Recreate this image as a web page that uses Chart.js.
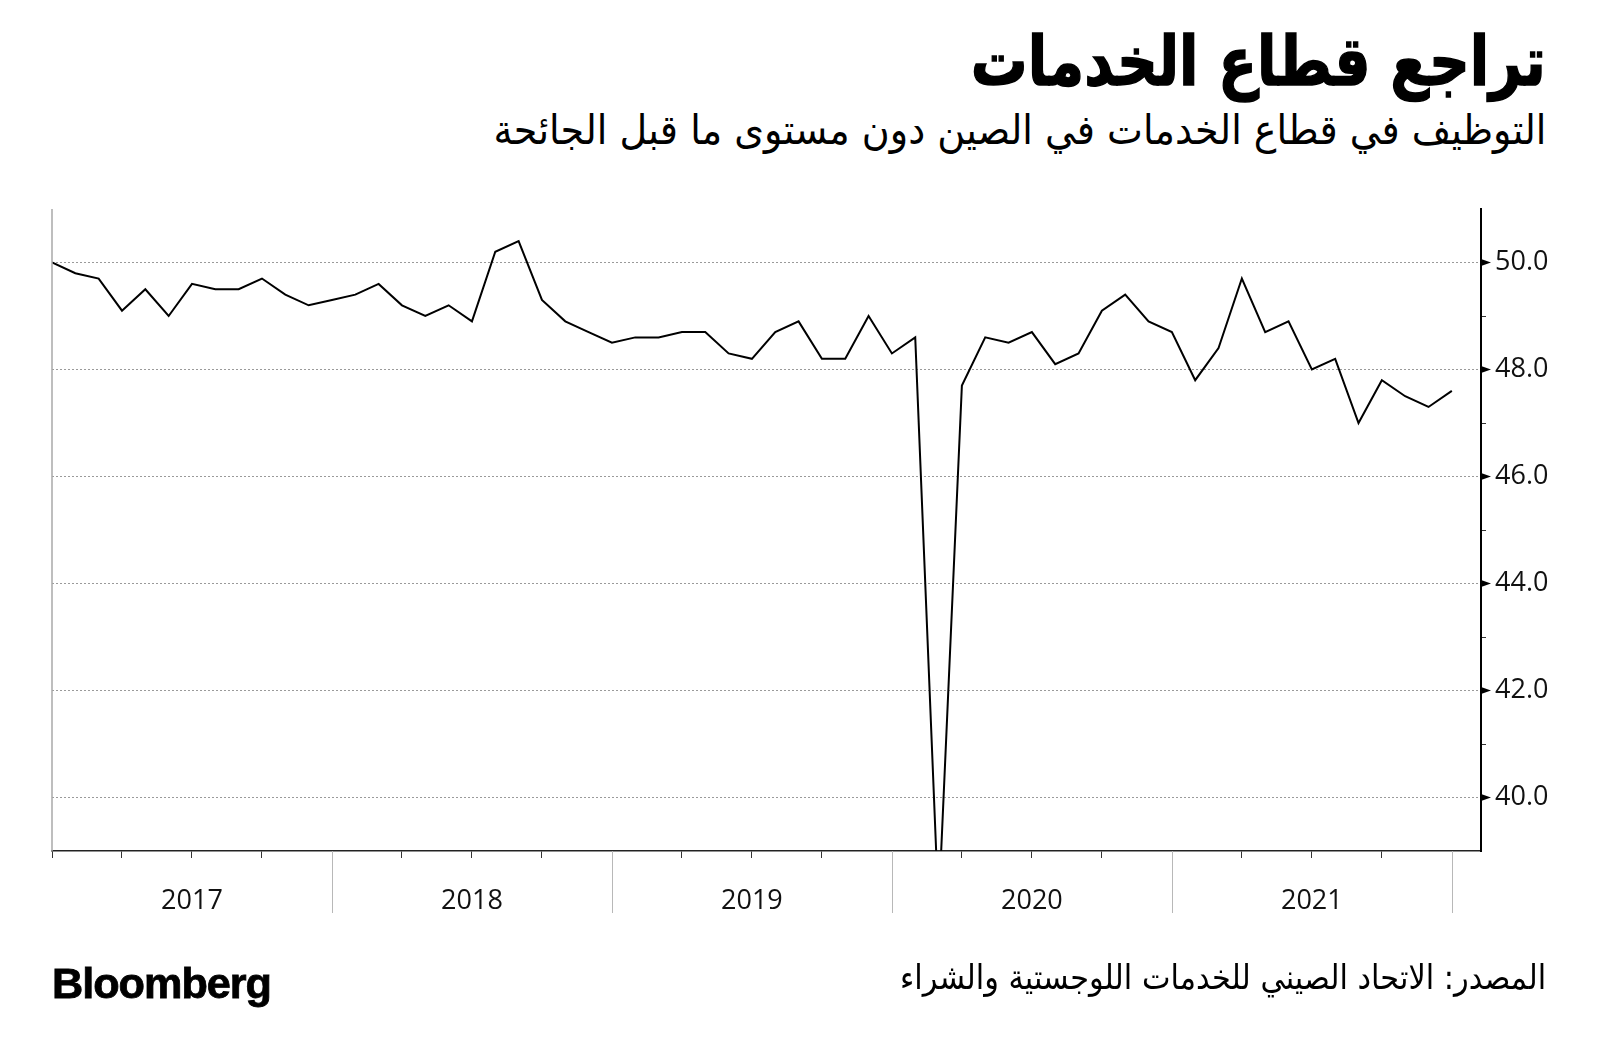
<!DOCTYPE html>
<html lang="ar">
<head>
<meta charset="utf-8">
<script src="https://cdn.jsdelivr.net/npm/chart.js@4.4.1/dist/chart.umd.min.js"></script>
<style>
  html, body { margin: 0; padding: 0; background: #fff; }
  body { width: 1600px; height: 1064px; position: relative; overflow: hidden; }
  #chart { position: absolute; left: 0; top: 0; }
  .txt { position: absolute; right: 54px; direction: rtl; white-space: nowrap; color: #000;
         font-family: "DejaVu Sans", sans-serif; transform-origin: right top; line-height: 1; }
  #title { top: 28px; font-size: 68px; font-weight: bold; -webkit-text-stroke: 1.5px #000; }
  #subtitle { top: 110px; font-size: 41px; }
  #source { top: 960px; font-size: 34px; }
  #logo { position: absolute; left: 52px; top: 962px; font-family: "Liberation Sans", Arial, sans-serif;
          font-weight: bold; font-size: 43px; letter-spacing: -1px; line-height: 1; transform-origin: left top;
          -webkit-text-stroke: 0.8px #000; }
</style>
</head>
<body>
<div id="title" class="txt">تراجع قطاع الخدمات</div>
<div id="subtitle" class="txt">التوظيف في قطاع الخدمات في الصين دون مستوى ما قبل الجائحة</div>
<canvas id="chart" width="1600" height="1064"></canvas>
<div id="source" class="txt">المصدر: الاتحاد الصيني للخدمات اللوجستية والشراء</div>
<div id="logo">Bloomberg</div>

<script>
// Monthly services employment index, Dec 2016 .. Dec 2021 (one value per month)
const serviceEmployment = [
    50.0, 49.8, 49.7, 49.1, 49.5, 49.0, 49.6, 49.5, 49.5, 49.7, 49.4, 49.2,
    49.3, 49.4, 49.6, 49.2, 49.0, 49.2, 48.9, 50.2, 50.4, 49.3, 48.9, 48.7,
    48.5, 48.6, 48.6, 48.7, 48.7, 48.3, 48.2, 48.7, 48.9, 48.2, 48.2, 49.0,
    48.3, 48.6, 37.9, 47.7, 48.6, 48.5, 48.7, 48.1, 48.3, 49.1, 49.4, 48.9,
    48.7, 47.8, 48.4, 49.7, 48.7, 48.9, 48.0, 48.2, 47.0, 47.8, 47.5, 47.3,
    47.6
];
const yearLabels = ['2017', '2018', '2019', '2020', '2021'];
const yTicks = [40, 42, 44, 46, 48, 50];
const yearBounds = [12, 24, 36, 48, 60];   // month index where each new year starts
const quarterTicks = [0, 3, 6, 9, 12, 15, 18, 21, 24, 27, 30, 33, 36, 39, 42, 45, 48, 51, 54, 57, 60];

const points = serviceEmployment.map((v, i) => ({ x: i, y: v }));

// Draws the left frame, the long year separators and the small arrow ticks
const axisDecor = {
    id: 'axisDecor',
    afterDraw(chart) {
        const { ctx, chartArea, scales } = chart;
        ctx.save();
        ctx.strokeStyle = '#a8a8a8';
        ctx.lineWidth = 1.5;
        ctx.beginPath();
        ctx.moveTo(chartArea.left, chartArea.top);
        ctx.lineTo(chartArea.left, chartArea.bottom);
        ctx.stroke();

        ctx.strokeStyle = '#b8b8b8';
        ctx.lineWidth = 1;
        yearBounds.forEach(v => {
            const px = Math.round(scales.x.getPixelForValue(v)) + 0.5;
            ctx.beginPath();
            ctx.moveTo(px, chartArea.bottom);
            ctx.lineTo(px, chartArea.bottom + 62);
            ctx.stroke();
        });

        ctx.fillStyle = '#000';
        yTicks.forEach(v => {
            const py = scales.y.getPixelForValue(v);
            ctx.beginPath();
            ctx.moveTo(chartArea.right, py - 3.5);
            ctx.lineTo(chartArea.right + 10, py);
            ctx.lineTo(chartArea.right, py + 3.5);
            ctx.closePath();
            ctx.fill();
        });
        ctx.restore();
    }
};

const ctx = document.getElementById('chart').getContext('2d');
new Chart(ctx, {
    type: 'line',
    data: {
        datasets: [{
            data: points,
            borderColor: '#000',
            borderWidth: 2,
            pointRadius: 0,
            tension: 0,
            fill: false
        }]
    },
    options: {
        responsive: false,
        animation: false,
        devicePixelRatio: 1,
        layout: { padding: { left: 52, top: 209, right: 0, bottom: 113 } },
        plugins: { legend: { display: false }, tooltip: { enabled: false } },
        scales: {
            x: {
                type: 'linear',
                min: 0,
                max: 61.25,
                afterBuildTicks: scale => { scale.ticks = quarterTicks.map(v => ({ value: v })); },
                afterFit: scale => { scale.height = 100; },
                grid: {
                    drawOnChartArea: false,
                    tickLength: 7,
                    tickColor: c => (c.tick && c.tick.value % 12 === 0 && c.tick.value !== 0) ? 'transparent' : '#333'
                },
                border: { color: '#222', width: 1.5 },
                ticks: {
                    autoSkip: false,
                    maxRotation: 0,
                    padding: 27,
                    color: '#111',
                    font: { family: 'Open Sans', size: 27 },
                    callback: v => (v % 12 === 6) ? yearLabels[(v - 6) / 12] : ''
                }
            },
            y: {
                position: 'right',
                min: 39,
                max: 51,
                afterBuildTicks: scale => {
                    const t = [];
                    for (let v = 39; v <= 51; v++) t.push({ value: v });
                    scale.ticks = t;
                },
                afterFit: scale => { scale.width = 119; },
                grid: {
                    color: c => yTicks.includes(c.tick && c.tick.value) ? '#9a9a9a' : 'transparent',
                    lineWidth: 1,
                    tickLength: 5,
                    tickColor: c => {
                        const v = c.tick && c.tick.value;
                        return (v % 2 !== 0 && v > 39 && v < 51) ? '#333' : 'transparent';
                    }
                },
                border: { color: '#000', width: 2, dash: [2, 2] },
                ticks: {
                    padding: 9,
                    color: '#111',
                    font: { family: 'Open Sans', size: 27 },
                    callback: v => yTicks.includes(v) ? v.toFixed(1) : ''
                }
            }
        }
    },
    plugins: [axisDecor]
});

function fitWidth(id, target) {
    const el = document.getElementById(id);
    const w = el.getBoundingClientRect().width;
    if (w > 0) el.style.transform = 'scaleX(' + (target / w) + ')';
}
fitWidth('title', 575);
fitWidth('subtitle', 1053);
fitWidth('source', 646);
fitWidth('logo', 219);
</script>
</body>
</html>
